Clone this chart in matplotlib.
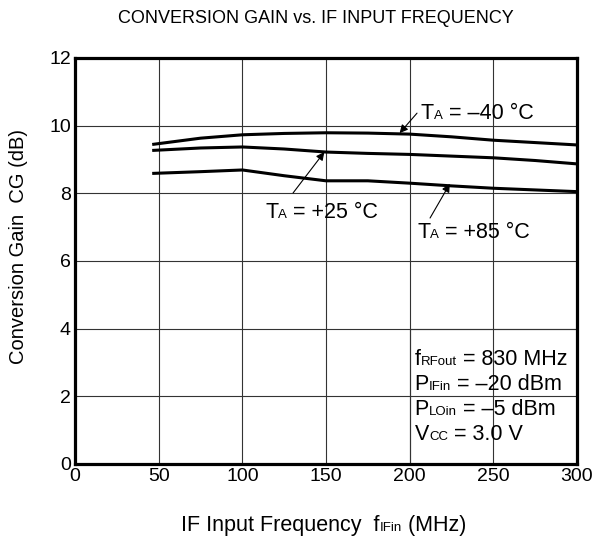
import matplotlib.pyplot as plt
from matplotlib.patches import Rectangle

plt.rcParams['font.family'] = ['Liberation Sans', 'DejaVu Sans']

freq = [47, 75, 100, 125, 150, 175, 200, 225, 250, 275, 300]
gain_m40 = [9.45, 9.63, 9.73, 9.77, 9.79, 9.78, 9.75, 9.67, 9.57, 9.50, 9.43]
gain_p25 = [9.27, 9.34, 9.37, 9.31, 9.22, 9.18, 9.15, 9.10, 9.05, 8.97, 8.87]
gain_p85 = [8.59, 8.64, 8.69, 8.52, 8.37, 8.37, 8.30, 8.22, 8.15, 8.10, 8.05]

xticks = [0, 50, 100, 150, 200, 250, 300]
yticks = [0, 2, 4, 6, 8, 10, 12]

BIG = 15.5
SMALL = 9.5


def rich(ax, x, y, pieces, transform=None):
    # pieces: list of (text, is_subscript); subscripts sit on the baseline in small type
    kw = {} if transform is None else dict(transform=transform)
    first, sub = pieces[0]
    size = SMALL if sub else BIG
    t = ax.text(x, y, first, fontsize=size, va='baseline', ha='left', zorder=4,
                clip_on=False, **kw)
    prev = size
    for s, sub in pieces[1:]:
        size = SMALL if sub else BIG
        dy = (prev - size) * 0.21
        t = ax.annotate(s, xy=(1, 0), xycoords=t, xytext=(0, dy),
                        textcoords='offset points', fontsize=size,
                        va='bottom', ha='left', annotation_clip=False, zorder=4)
        prev = size
    return t


fig = plt.figure(figsize=(5.96, 5.37), dpi=100)
ax = fig.add_axes([0.126, 0.136, 0.842, 0.756])

ax.set_xlim(0, 300)
ax.set_ylim(0, 12)
ax.set_xticks(xticks)
ax.set_yticks(yticks)
ax.grid(True, color='#333333', linewidth=0.8, zorder=0)
ax.tick_params(length=0, labelsize=14, pad=3)
for s in ax.spines.values():
    s.set_linewidth(2.3)

# condition box covers the grid in the lower right corner
ax.add_patch(Rectangle((200, 0), 100, 4, facecolor='white', edgecolor='#333333',
                       linewidth=0.8, zorder=1))

for g in (gain_m40, gain_p25, gain_p85):
    ax.plot(freq, g, color='black', linewidth=2.2, zorder=3)

aprops = dict(arrowstyle='-|>', color='black', lw=0.8, mutation_scale=12,
              shrinkA=0, shrinkB=0)
ax.annotate('', xy=(194, 9.78), xytext=(204.4, 10.37), arrowprops=aprops, zorder=4)
ax.annotate('', xy=(149, 9.22), xytext=(130.3, 8.01), arrowprops=aprops, zorder=4)
ax.annotate('', xy=(224, 8.28), xytext=(212.2, 7.27), arrowprops=aprops, zorder=4)

rich(ax, 206.5, 10.2, [('T', False), ('A', True), (' = –40 °C', False)])
rich(ax, 113.6, 7.27, [('T', False), ('A', True), (' = +25 °C', False)])
rich(ax, 204.4, 6.68, [('T', False), ('A', True), (' = +85 °C', False)])

rich(ax, 203, 2.93, [('f', False), ('RFout', True), (' = 830 MHz', False)])
rich(ax, 203, 2.19, [('P', False), ('IFin', True), (' = –20 dBm', False)])
rich(ax, 203, 1.45, [('P', False), ('LOin', True), (' = –5 dBm', False)])
rich(ax, 203, 0.71, [('V', False), ('CC', True), (' = 3.0 V', False)])

ax.set_ylabel('Conversion Gain  CG (dB)', fontsize=14.5)
ax.yaxis.set_label_coords(-0.094, 0.535)
rich(ax, 181 / 596, 1 - 531 / 537,
     [('IF Input Frequency  f', False), ('IFin', True), (' (MHz)', False)],
     transform=fig.transFigure)
fig.text(0.53, 0.965, 'CONVERSION GAIN vs. IF INPUT FREQUENCY', ha='center', va='center',
         fontsize=13)

fig.savefig('out.png', dpi=100)
